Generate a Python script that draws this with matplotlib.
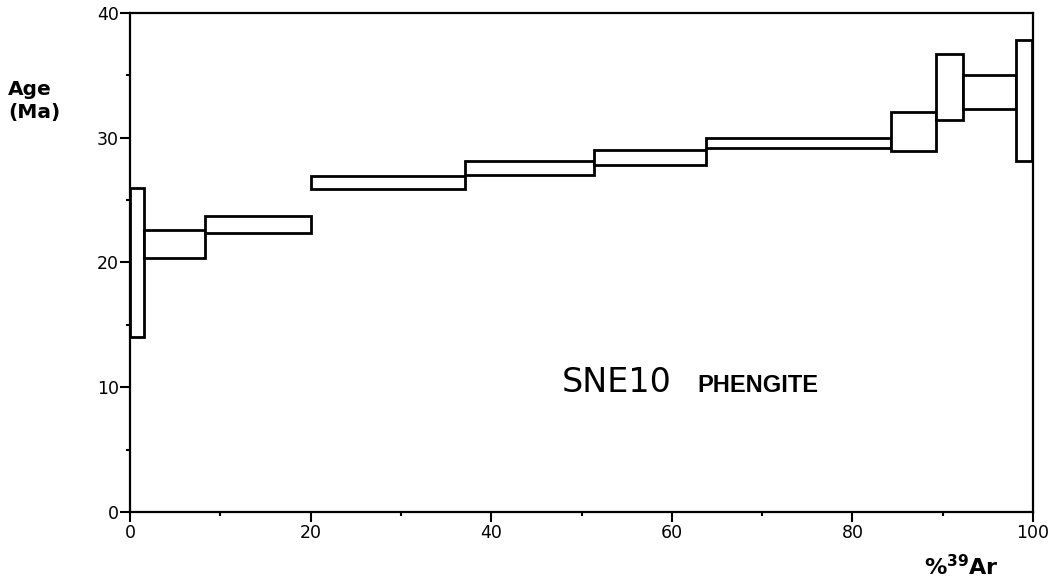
import matplotlib.pyplot as plt
from matplotlib.patches import Rectangle
from matplotlib.ticker import MultipleLocator

# step boundaries (% 39Ar released) and age ranges (Ma) per step
step_start = [0.0, 1.5, 8.3, 20.0, 37.1, 51.4, 63.8, 84.3, 89.3, 92.3, 98.1]
step_end = [1.5, 8.3, 20.0, 37.1, 51.4, 63.8, 84.3, 89.3, 92.3, 98.1, 99.9]
age_low = [14.0, 20.4, 22.4, 25.9, 27.0, 27.8, 29.2, 28.9, 31.4, 32.3, 28.1]
age_high = [26.0, 22.6, 23.7, 26.9, 28.1, 29.0, 30.0, 32.1, 36.7, 35.0, 37.8]

fig = plt.figure(figsize=(10.58, 5.86), dpi=100)
ax = fig.add_axes([0.1229, 0.1263, 0.8535, 0.8515])

for x0, x1, lo, hi in zip(step_start, step_end, age_low, age_high):
    ax.add_patch(Rectangle((x0, lo), x1 - x0, hi - lo, facecolor='white',
                           edgecolor='black', linewidth=2, zorder=3))

ax.set_xlim(0, 100)
ax.set_ylim(0, 40)
ax.xaxis.set_major_locator(MultipleLocator(20))
ax.xaxis.set_minor_locator(MultipleLocator(10))
ax.yaxis.set_major_locator(MultipleLocator(10))
ax.yaxis.set_minor_locator(MultipleLocator(5))
ax.tick_params(which='major', length=7, width=1.5, pad=2, labelsize=12.5)
ax.tick_params(axis='y', which='major', pad=1)
ax.tick_params(which='minor', length=3, width=1.5)
for s in ax.spines.values():
    s.set_linewidth(1.6)

# sample label
ax.text(0.478, 0.24, 'SNE10', transform=ax.transAxes, fontsize=24,
        ha='left', va='baseline', family='DejaVu Sans')
ax.text(0.628, 0.24, 'PHENGITE', transform=ax.transAxes, fontsize=17,
        fontweight='bold', ha='left', va='baseline', family='Liberation Sans')

fig.text(8 / 1058, 1 - 101 / 586, 'Age\n(Ma)', fontsize=14.5, fontweight='bold',
         ha='left', va='center', linespacing=1.25)
fig.text(961 / 1058, 1 - 575 / 586, r'%$^{\mathbf{39}}$Ar', fontsize=16,
         fontweight='bold', ha='center', va='baseline')

fig.savefig('out.png', dpi=100)
